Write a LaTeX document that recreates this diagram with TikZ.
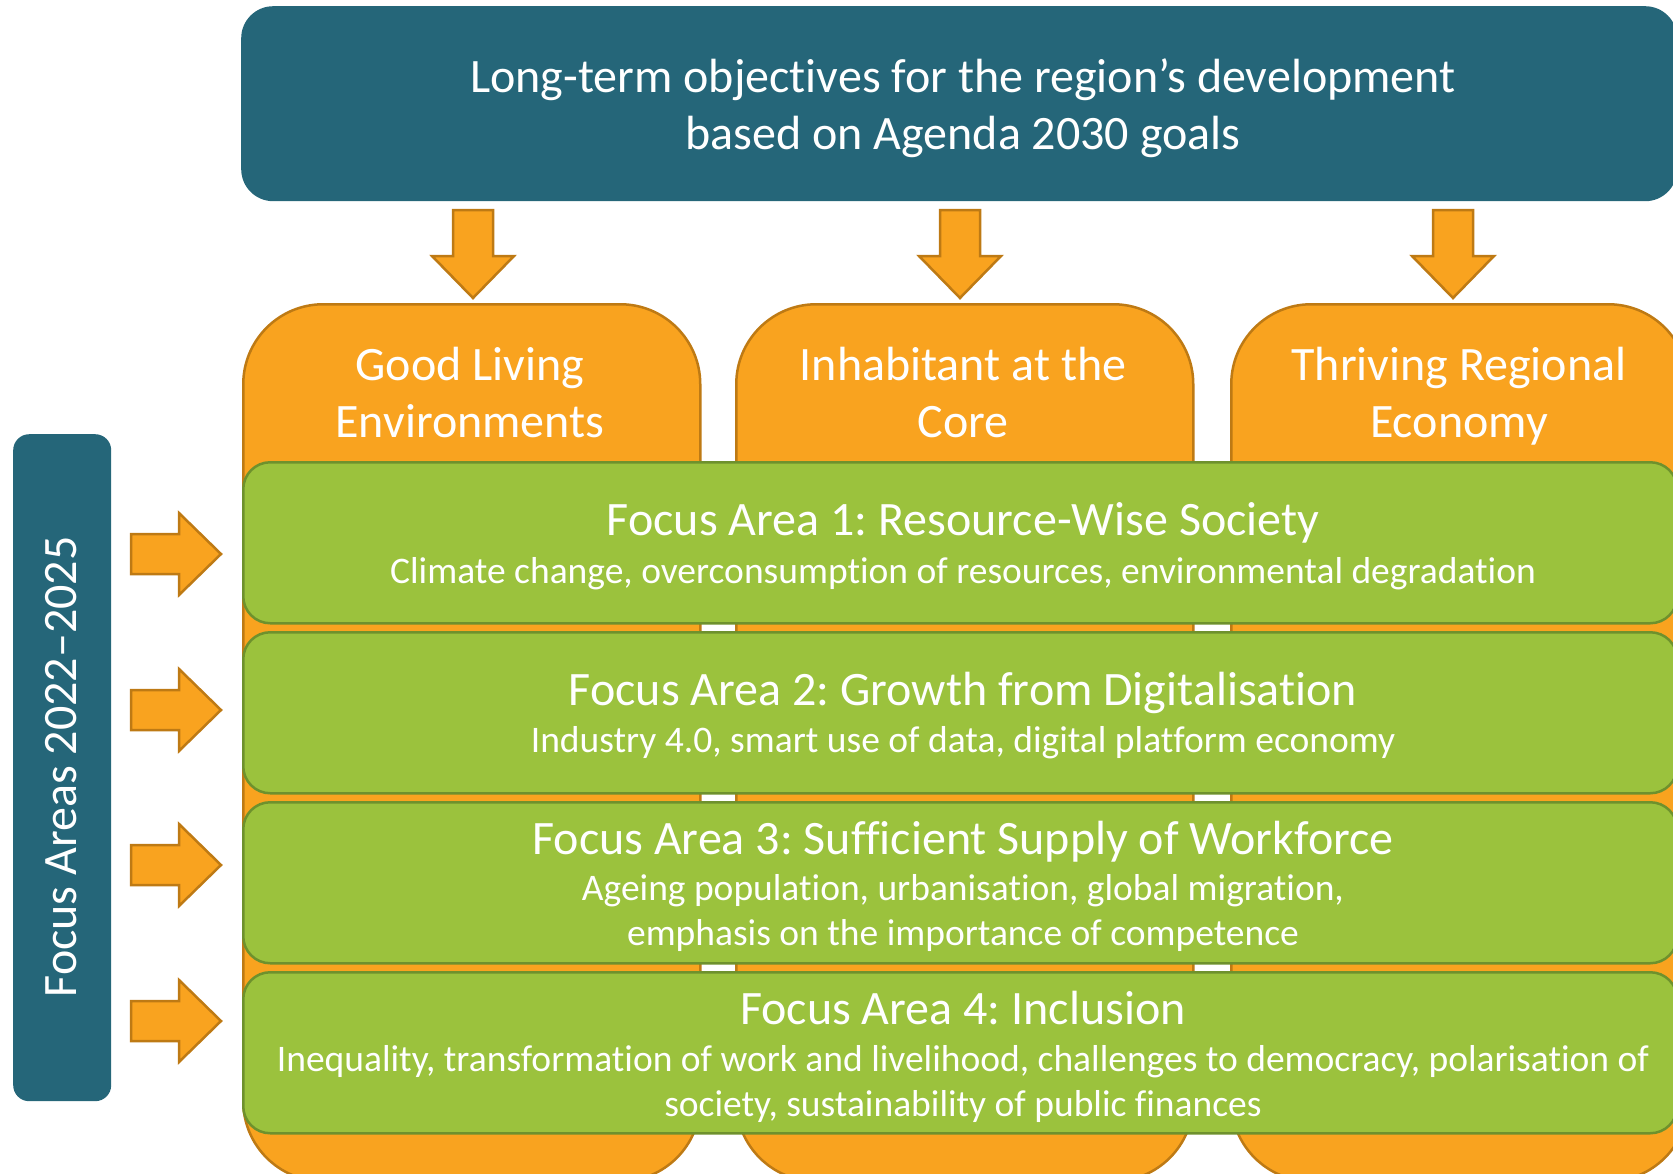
\documentclass[tikz,border=0pt]{standalone}
\usepackage{fontspec}
\setmainfont{Carlito}[Ligatures=NoCommon,Contextuals=NoAlternate]
\frenchspacing
\definecolor{tealc}{RGB}{37,102,121}
\definecolor{orangec}{RGB}{249,163,31}
\definecolor{orangeb}{RGB}{190,122,20}
\definecolor{greenc}{RGB}{155,194,61}
\definecolor{greenb}{RGB}{110,145,45}
\begin{document}
\begin{tikzpicture}[x=1pt,y=-1pt,
  banner/.style={fill=tealc,draw=none,rounded corners=32pt,anchor=north west,inner sep=0pt},
  colbox/.style={fill=orangec,draw=orangeb,line width=2.5pt,rounded corners=80pt,anchor=north west,inner sep=0pt,minimum width=457pt,minimum height=877pt},
  barbox/.style={fill=greenc,draw=greenb,line width=2.5pt,rounded corners=27pt,anchor=north west,inner sep=0pt,minimum width=1434pt,minimum height=161pt},
  sidebox/.style={fill=tealc,draw=none,rounded corners=16pt,anchor=north west,inner sep=0pt,minimum width=98pt,minimum height=667pt},
  bigtxt/.style={text=white,font=\fontsize{48}{57}\selectfont,align=center,inner sep=0pt},
  subtxt/.style={text=white,font=\fontsize{37.5}{45}\selectfont,align=center,inner sep=0pt},
  blockarrow/.style={fill=orangec,draw=orangeb,line width=2.5pt,line join=miter},
  downarr/.pic={\path[blockarrow] (0,0) -- (-41,-42) -- (-20,-42) -- (-20,-88) -- (20,-88) -- (20,-42) -- (41,-42) -- cycle;},
  rightarr/.pic={\path[blockarrow] (0,0) -- (-42,-41) -- (-42,-20) -- (-90,-20) -- (-90,20) -- (-42,20) -- (-42,41) -- cycle;}
]
\useasboundingbox (0,0) rectangle (1673,1173);
\clip (0,0) rectangle (1673,1173);
% orange columns
\node[colbox] (col1) at (242,303) {};
\node[colbox] (col2) at (735,303) {};
\node[colbox] (col3) at (1230,303) {};
\node[bigtxt] (h1) at (470,398) {\strut Good Living\\Environments\strut};
\node[bigtxt] (h2) at (963,398) {\strut Inhabitant at the\\Core\strut};
\node[bigtxt] (h3) at (1459,398) {\strut Thriving Regional\\Economy\strut};
% banner
\node[banner,minimum width=1436pt,minimum height=195pt] (top) at (241,6) {};
\node[bigtxt] (toptxt) at (963,109.5) {\strut Long-term objectives for the region’s development\\based on Agenda 2030 goals\strut};
% down arrows
\coordinate (d1) at (473,298);
\coordinate (d2) at (960,298);
\coordinate (d3) at (1453,298);
\pic at (d1) {downarr};
\pic at (d2) {downarr};
\pic at (d3) {downarr};
% green bars
\node[barbox] (b1) at (242,461) {};
\node[barbox] (b2) at (242,631) {};
\node[barbox] (b3) at (242,801) {};
\node[barbox] (b4) at (242,971) {};
\node[bigtxt] (b1t) at (963,524) {\strut Focus Area 1: Resource-Wise Society};
\node[subtxt] (b1s) at (963,574) {\strut Climate change, overconsumption of resources, environmental degradation};
\node[bigtxt] (b2t) at (963,694) {\strut Focus Area 2: Growth from Digitalisation};
\node[subtxt] (b2s) at (963,743) {\strut Industry 4.0, smart use of data, digital platform economy};
\node[bigtxt] (b3t) at (963,843) {\strut Focus Area 3: Sufficient Supply of Workforce};
\node[subtxt] (b3s) at (963,914) {\strut Ageing population, urbanisation, global migration,\\emphasis on the importance of competence\strut};
\node[bigtxt] (b4t) at (963,1013) {\strut Focus Area 4: Inclusion};
\node[subtxt] (b4s) at (963,1085) {\strut Inequality, transformation of work and livelihood, challenges to democracy, polarisation of\\society, sustainability of public finances\strut};
% side box
\node[sidebox] (side) at (13,434) {};
\node[bigtxt,rotate=90] (sidetxt) at (65,767) {\strut Focus Areas 2022–2025};
% right arrows
\coordinate (r1) at (221,554);
\coordinate (r2) at (221,710);
\coordinate (r3) at (221,865);
\coordinate (r4) at (221,1021);
\pic at (r1) {rightarr};
\pic at (r2) {rightarr};
\pic at (r3) {rightarr};
\pic at (r4) {rightarr};
\end{tikzpicture}
\end{document}
